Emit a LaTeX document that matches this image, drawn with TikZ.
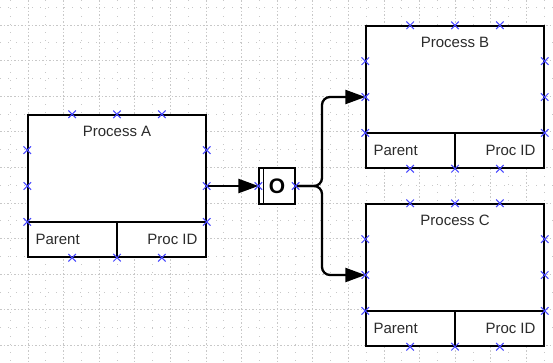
\documentclass[tikz,border=0pt]{standalone}
\usepackage{fontspec}
\setmainfont{Liberation Sans}
\usetikzlibrary{arrows.meta, positioning, calc, shapes.misc}
\definecolor{gridgray}{HTML}{C8C8C8}
\definecolor{pinblue}{HTML}{4646FF}
\definecolor{labelgray}{HTML}{2B2B2B}

\begin{document}
\begin{tikzpicture}[x=1pt, y=-1pt,
    proc/.style={draw, line width=1.4pt, fill=white, minimum width=178pt,
                 minimum height=142pt, inner sep=0pt},
    forkbox/.style={draw, line width=1.2pt, fill=white, minimum size=36pt,
                    inner sep=0pt, font=\fontsize{21}{24}\selectfont\bfseries},
    txt/.style={font=\fontsize{15}{18}\selectfont, text=labelgray, inner sep=0pt},
    pin/.style={cross out, draw=pinblue, line width=1pt, minimum size=6.5pt,
                inner sep=0pt},
    arr/.style={-{Triangle[length=20pt, width=14pt]}, line width=2.3pt,
                rounded corners=8pt},
    major/.style={gridgray, line width=0.8pt, dash pattern=on 1.5pt off 2pt},
    minor/.style={gridgray, line width=0.8pt, dash pattern=on 1pt off 7pt}
  ]
    \useasboundingbox (0,0) rectangle (553,362);
    % grid
    \foreach \k in {0,...,15} {
      \draw[major] ({28+35.6*(\k-1)},0) -- ({28+35.6*(\k-1)},362);
      \draw[minor] ({10.2+35.6*\k},0) -- ({10.2+35.6*\k},362);
    }
    \foreach \k in {0,...,9} {
      \draw[major] (0,{25+35.6*\k}) -- (553,{25+35.6*\k});
      \draw[minor] (0,{7.2+35.6*\k}) -- (553,{7.2+35.6*\k});
    }

    \node[proc] (procA) at (117,186) {};
    \node[proc] (procB) at (455,97) {};
    \node[proc] (procC) at (455,275) {};
    \node[forkbox] (fork) at (277,186) {O};
    \draw[line width=1.2pt] ($(fork.north west)+(5,0)$) -- ($(fork.south west)+(5,0)$);

    \foreach \b/\t in {procA/A, procB/B, procC/C} {
      \draw[line width=1.4pt] ($(\b.north west)!0.75!(\b.south west)$)
        -- ($(\b.north east)!0.75!(\b.south east)$);
      \draw[line width=1.4pt] ($(\b.north)!0.75!(\b.south)$) -- (\b.south);
      \node[txt] (\b-title) at ($(\b.north)+(0,17)$) {Process \t};
      \node[txt, anchor=west] (\b-par) at ($(\b.south west)+(8,-18)$) {Parent};
      \node[txt, anchor=east] (\b-pid) at ($(\b.south east)+(-9,-18)$) {Proc ID};
    }

    % connectors
    \coordinate (split) at (322,186);
    \draw[arr] (procA.east) -- (fork.west);
    \draw[arr] (fork.east) -- (split) |- (procB.west);
    \draw[arr] (fork.east) -- (split) |- (procC.west);

    % connection points
    \foreach \b in {procA, procB, procC} {
      \foreach \f/\n in {0.25/1, 0.5/2, 0.75/3} {
        \node[pin] (\b-n\n) at ($(\b.north west)!\f!(\b.north east)$) {};
        \node[pin] (\b-s\n) at ($(\b.south west)!\f!(\b.south east)$) {};
        \node[pin] (\b-w\n) at ($(\b.north west)!\f!(\b.south west)$) {};
        \node[pin] (\b-e\n) at ($(\b.north east)!\f!(\b.south east)$) {};
      }
    }
    \node[pin] (fork-w) at (fork.west) {};
    \node[pin] (fork-e) at (fork.east) {};
  \end{tikzpicture}
\end{document}
